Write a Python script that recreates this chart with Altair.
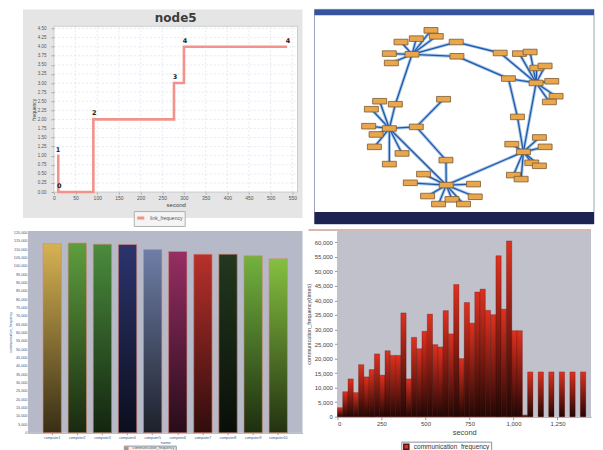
import altair as alt
import pandas as pd

LAB = "Liberation Sans"
TFONT = "DejaVu Sans"

# ---------------- top-left: node5 step chart ----------------
tl_title = "node5"
tl_second = [7, 10, 91, 277, 300, 538]
tl_frequency = [1, 0, 2, 3, 4, 4]
tl_point_label = ["1", "0", "2", "3", "4", "4"]
tl_series_name = "link_frequency"
tl_x_ticks = [0, 50, 100, 150, 200, 250, 300, 350, 400, 450, 500, 550]
tl_y_ticks = [0.0, 0.25, 0.5, 0.75, 1.0, 1.25, 1.5, 1.75, 2.0, 2.25, 2.5, 2.75,
              3.0, 3.25, 3.5, 3.75, 4.0, 4.25, 4.5]
tl_x_max, tl_y_max = 562, 4.56

# ---------------- top-right: communication graph ----------------
node_id = ["A", "B", "C", "D", "E",
           "a1", "a2", "a3", "a4", "a5", "a6", "a7", "a8",
           "b1", "b2", "b3", "b4", "b5", "b6", "b7", "b8", "b9", "bc",
           "c1", "c2", "c3", "c4", "c5", "c6", "c7",
           "d1", "d2", "d3", "d4", "d5", "d6", "d7", "d8", "d9",
           "e1", "e2", "e3", "e4", "e5", "e6", "e7", "e8", "e9", "e10"]
node_x = [411.7, 536.0, 523.3, 446.0, 389.0,
          430.7, 436.0, 416.0, 400.7, 389.0, 391.0, 456.0, 456.7,
          500.0, 519.3, 530.0, 536.7, 545.0, 551.7, 556.0, 549.3, 508.3, 517.3,
          511.7, 539.3, 545.0, 531.7, 539.3, 513.3, 521.0,
          445.7, 423.3, 410.0, 473.3, 427.3, 438.3, 451.7, 463.3, 475.0,
          379.3, 395.0, 371.0, 368.3, 375.7, 374.0, 401.7, 389.0, 416.0, 443.3]
node_y = [54.0, 82.7, 151.7, 185.0, 128.3,
          30.0, 36.0, 38.3, 41.7, 53.3, 62.7, 41.7, 56.0,
          52.7, 53.3, 51.7, 67.7, 65.7, 81.0, 96.0, 101.7, 78.3, 116.7,
          144.0, 137.3, 146.7, 162.7, 165.7, 175.0, 179.0,
          160.0, 174.0, 182.7, 184.0, 196.0, 204.0, 199.3, 204.0, 196.7,
          101.0, 104.0, 109.0, 126.0, 134.3, 146.7, 153.3, 164.0, 126.7, 99.0]
edge_from = ["A", "A", "A", "A", "A", "A", "A", "A", "A", "a7", "a8",
             "B", "B", "B", "B", "B", "B", "B", "B", "B", "B", "b9", "bc",
             "C", "C", "C", "C", "C", "C", "C", "C",
             "D", "D", "D", "D", "D", "D", "D", "D", "D", "D",
             "E", "E", "E", "E", "E", "E", "E", "E", "E", "e9", "e9"]
edge_to = ["a1", "a2", "a3", "a4", "a5", "a6", "a7", "a8", "e2", "b1", "b9",
           "b1", "b2", "b3", "b4", "b5", "b6", "b7", "b8", "b9", "C", "bc", "C",
           "c1", "c2", "c3", "c4", "c5", "c6", "c7", "D",
           "d1", "d2", "d3", "d4", "d5", "d6", "d7", "d8", "d9", "E",
           "e1", "e2", "e3", "e4", "e5", "e6", "e7", "e8", "e9", "e10", "d1"]

# ---------------- bottom-left: per computer totals ----------------
bl_names = ["computer1", "computer2", "computer3", "computer4", "computer5",
            "computer6", "computer7", "computer8", "computer9", "computer10"]
bl_values = [113400, 113800, 113100, 112900, 109900, 108700, 107100, 107100, 106100, 104300]
bl_colors = ["#d6b252", "#5e9e3e", "#4a8c3c", "#2c346e", "#6e7ea6",
             "#962e64", "#b8302c", "#22381e", "#72b23e", "#84c040"]
bl_y_ticks = [0, 5000, 10000, 15000, 20000, 25000, 30000, 35000, 40000, 45000, 50000,
              55000, 60000, 65000, 70000, 75000, 80000, 85000, 90000, 95000, 100000,
              105000, 110000, 115000, 120000]

# ---------------- bottom-right: frequency over time ----------------
br_start = [0, 30, 60, 90, 120, 150, 180, 210, 240, 270, 300, 330, 360, 390, 420,
            450, 480, 510, 540, 570, 600, 630, 660, 690, 720, 750, 780, 810, 840,
            870, 900, 930, 960, 990, 1020, 1050, 1080, 1140, 1200, 1260, 1320, 1380]
br_values = [3100, 8600, 13000, 8300, 17900, 13700, 16200, 21600, 14300, 22700,
             21100, 21100, 35700, 13000, 27300, 23400, 29400, 35300, 24800, 24000,
             36500, 28500, 45500, 20000, 39300, 32200, 42900, 43900, 36600, 35100,
             55400, 37000, 60500, 29600, 29600, 600, 15400, 15400, 15400, 15400,
             15400, 15400]
br_bin = 30
br_x_ticks = [0, 250, 500, 750, 1000, 1250]
br_y_ticks = [0, 5000, 10000, 15000, 20000, 25000, 30000, 35000, 40000, 45000,
              50000, 55000, 60000]

one = alt.Data(values=[{"k": 1}])

# ================= TOP-LEFT =================
# plot rectangle 244x166 placed at (LX, TY) inside a 270x183 unit
PW, PH, LX, TY = 244, 166, 26, 17
TLW, TLH = PW + LX, PH + TY
x_lo = -LX * tl_x_max / PW
y_hi = tl_y_max * TLH / PH
tl_df = pd.DataFrame({"second": tl_second, "frequency": tl_frequency,
                      "label": tl_point_label,
                      "series": [tl_series_name] * len(tl_second)})
gx_df = pd.DataFrame({"g": tl_x_ticks, "lo": [0] * len(tl_x_ticks),
                      "hi": [tl_y_max] * len(tl_x_ticks)})
gy_df = pd.DataFrame({"g": tl_y_ticks, "lo": [0] * len(tl_y_ticks),
                      "hi": [tl_x_max] * len(tl_y_ticks)})
xsc = alt.Scale(domain=[x_lo, tl_x_max], nice=False, zero=False)
ysc = alt.Scale(domain=[0, y_hi], nice=False, zero=False)
tl_xaxis = alt.Axis(values=tl_x_ticks, format="d", title="second", domain=False,
                    grid=False, labelOverlap=False, labelFont=LAB, labelFontSize=5,
                    labelColor="#555", titleFont=LAB, titleFontSize=6,
                    titleFontWeight="normal", titleColor="#444", tickSize=2,
                    tickColor="#aaa", labelPadding=1, titlePadding=1,
                    titleX=LX + PW / 2, zindex=1)
tl_yaxis = alt.Axis(values=tl_y_ticks, format=".2f", title="frequency", domain=False,
                    grid=False, labelOverlap=False, offset=-LX, labelFont=LAB,
                    labelFontSize=4.5, labelColor="#555", titleFont=LAB,
                    titleFontSize=5, titleFontWeight="normal", titleColor="#444",
                    tickSize=3, tickColor="#aaa", labelPadding=5, titlePadding=1,
                    titleY=TY + PH / 2, zindex=1)
tl_x = alt.X("second:Q", scale=xsc, axis=tl_xaxis)
tl_y = alt.Y("frequency:Q", scale=ysc, axis=tl_yaxis)

tl_bg = alt.Chart(one).mark_rect(fill="#e5e5e5").encode(
    x=alt.value(-5), x2=alt.value(TLW + 5), y=alt.value(0), y2=alt.value(TLH + 26))
tl_plot = alt.Chart(one).mark_rect(fill="white", stroke="#bdbdbd", strokeWidth=0.7).encode(
    x=alt.value(LX), x2=alt.value(TLW), y=alt.value(TY), y2=alt.value(TLH))
tl_gridx = alt.Chart(gx_df).mark_rule(color="#d3dce8", strokeWidth=0.6,
                                      strokeDash=[2, 2]).encode(
    x=alt.X("g:Q", scale=xsc, axis=tl_xaxis), y=alt.Y("lo:Q", scale=ysc, axis=tl_yaxis),
    y2="hi:Q")
tl_gridy = alt.Chart(gy_df).mark_rule(color="#d3dce8", strokeWidth=0.6,
                                      strokeDash=[2, 2]).encode(
    y=alt.Y("g:Q", scale=ysc, axis=tl_yaxis), x=alt.X("lo:Q", scale=xsc, axis=tl_xaxis),
    x2="hi:Q")
tl_head = alt.Chart(alt.Data(values=[{"t": tl_title}])).mark_text(
    font=TFONT, fontSize=12, fontWeight="bold", color="#3c3c3c", baseline="middle").encode(
    x=alt.value(LX + PW / 2), y=alt.value(TY - 8), text="t:N")
tl_line = alt.Chart(tl_df).mark_line(interpolate="step-after", strokeWidth=2.6).encode(
    x=tl_x, y=tl_y,
    color=alt.Color("series:N", scale=alt.Scale(range=["#f2928a"]),
                    legend=alt.Legend(orient="none", legendX=LX + 80, legendY=TY + 185,
                                      title=None, labelFont=LAB, labelFontSize=5,
                                      labelColor="#555", symbolType="stroke",
                                      symbolStrokeWidth=3, symbolSize=50,
                                      strokeColor="#b0b0b0", fillColor="#f4f4f4",
                                      padding=1.5)))
tl_text = alt.Chart(tl_df).mark_text(dy=-6, dx=1, fontSize=6.5, fontWeight="bold",
                                     font=TFONT, color="#222").encode(
    x=tl_x, y=tl_y, text="label:N")

tl = alt.layer(tl_bg, tl_plot, tl_gridx, tl_gridy, tl_head, tl_line, tl_text).properties(
    width=TLW, height=TLH)

# ================= TOP-RIGHT =================
TRW, TRH = 280, 215
pos = {n: (x, y) for n, x, y in zip(node_id, node_x, node_y)}
nodes_df = pd.DataFrame({"id": node_id, "gx": node_x, "gy": node_y})
edges_df = pd.DataFrame({
    "gx": [pos[a][0] for a in edge_from], "gy": [pos[a][1] for a in edge_from],
    "gx2": [pos[b][0] for b in edge_to], "gy2": [pos[b][1] for b in edge_to]})
gxs = alt.Scale(domain=[314, 594], nice=False, zero=False)
gys = alt.Scale(domain=[224, 9], nice=False, zero=False)

tr_frame = alt.Chart(one).mark_rect(fill="white", stroke="#9aa3b8", strokeWidth=1).encode(
    x=alt.value(0), x2=alt.value(TRW), y=alt.value(0), y2=alt.value(TRH))
tr_titlebar = alt.Chart(one).mark_rect(fill="#3553a0").encode(
    x=alt.value(0), x2=alt.value(TRW), y=alt.value(0), y2=alt.value(6))
tr_status = alt.Chart(one).mark_rect(fill="#1c2352").encode(
    x=alt.value(0), x2=alt.value(TRW), y=alt.value(TRH - 12), y2=alt.value(TRH))
tr_edges_halo = alt.Chart(edges_df).mark_rule(color="#a8c6ea", strokeWidth=3.2).encode(
    x=alt.X("gx:Q", scale=gxs, axis=None), y=alt.Y("gy:Q", scale=gys, axis=None),
    x2="gx2:Q", y2="gy2:Q")
tr_edges = alt.Chart(edges_df).mark_rule(color="#1f5aa8", strokeWidth=1.3).encode(
    x=alt.X("gx:Q", scale=gxs, axis=None), y=alt.Y("gy:Q", scale=gys, axis=None),
    x2="gx2:Q", y2="gy2:Q")
tr_nodes = alt.Chart(nodes_df).mark_point(
    shape="M-1,-0.4L1,-0.4L1,0.4L-1,0.4Z", size=196, filled=True,
    fill="#eaa64c", stroke="#7a5a32", strokeWidth=0.8, opacity=1).encode(
    x=alt.X("gx:Q", scale=gxs, axis=None), y=alt.Y("gy:Q", scale=gys, axis=None))

tr = alt.layer(tr_frame, tr_titlebar, tr_status, tr_edges_halo, tr_edges,
               tr_nodes).properties(width=TRW, height=TRH)

# ================= BOTTOM-LEFT =================
BLW, BLH = 275, 202
bl_df = pd.DataFrame({"name": bl_names, "value": bl_values,
                      "series": ["communication_frequency"] * len(bl_names)})
bl_x = alt.X("name:N", sort=bl_names,
             scale=alt.Scale(paddingInner=0.27, paddingOuter=0.6),
             axis=alt.Axis(title="name", labelAngle=0, labelOverlap=False, labelFont=LAB,
                           labelFontSize=3.5, labelColor="#35558a", titleFont=LAB,
                           titleFontSize=4, titleFontWeight="normal", titleColor="#35558a",
                           tickSize=2, tickColor="#8aa0c0", domainColor="#8aa0c0",
                           labelPadding=1, titlePadding=1))
bl_y = alt.Y("value:Q", scale=alt.Scale(domain=[0, 121000], nice=False),
             axis=alt.Axis(values=bl_y_ticks, format=",d", title="communication_frequency",
                           labelOverlap=False, labelFont=LAB, labelFontSize=3.8,
                           labelColor="#35558a", titleFont=LAB, titleFontSize=3.5,
                           titleFontWeight="normal", titleColor="#35558a", ticks=False,
                           domainColor="#8aa0c0", labelPadding=1, titlePadding=1,
                           grid=False))
bl_bg = alt.Chart(one).mark_rect(fill="#b6bac8").encode(
    x=alt.value(0), x2=alt.value(BLW), y=alt.value(0), y2=alt.value(BLH))
bl_bars = alt.Chart(bl_df).mark_bar().encode(
    x=bl_x, y=bl_y,
    fill=alt.Fill("name:N", scale=alt.Scale(domain=bl_names, range=bl_colors), legend=None))
bl_shade = alt.Chart(bl_df).mark_bar(
    fill={"gradient": "linear", "x1": 0, "x2": 0, "y1": 0, "y2": 1,
          "stops": [{"offset": 0, "color": "rgba(0,0,0,0)"},
                    {"offset": 1, "color": "rgba(0,0,0,0.74)"}]},
    strokeWidth=0.6).encode(
    x=bl_x, y=bl_y,
    stroke=alt.Stroke("series:N", scale=alt.Scale(range=["#dc8670"]),
                      legend=alt.Legend(orient="none", legendX=96, legendY=215, title=None,
                                        labelFont=LAB, labelFontSize=3.6, labelColor="#555",
                                        symbolType="square", symbolSize=6,
                                        symbolFillColor="#c03020", strokeColor="#8890a0",
                                        fillColor="#f0f0f0", padding=0.8)))
bl = alt.layer(bl_bg, bl_bars, bl_shade).properties(width=BLW, height=BLH)

# ================= BOTTOM-RIGHT =================
BRW, BRH = 254, 186
br_df = pd.DataFrame({"start": br_start, "end": [s + br_bin for s in br_start],
                      "value": br_values,
                      "series": ["communication_frequency"] * len(br_start)})
br_x = alt.X("start:Q", scale=alt.Scale(domain=[0, 1440], nice=False, zero=False),
             axis=alt.Axis(values=br_x_ticks, format=",d", title="second",
                           labelOverlap=False, labelFont=LAB, labelFontSize=6,
                           labelColor="#444", titleFont=LAB, titleFontSize=7.5,
                           titleFontWeight="normal", titleColor="#444", tickSize=3,
                           tickColor="#999", domainColor="#999", labelPadding=1,
                           titlePadding=2, grid=False))
br_y = alt.Y("value:Q", scale=alt.Scale(domain=[0, 63900], nice=False),
             axis=alt.Axis(values=br_y_ticks, format=",d",
                           title="communication_frequency(times)", labelOverlap=False,
                           labelFont=LAB, labelFontSize=6, labelColor="#444",
                           titleFont=LAB, titleFontSize=5.5, titleFontWeight="normal",
                           titleColor="#444", tickSize=3, tickColor="#999",
                           domainColor="#999", labelPadding=2, titlePadding=3, grid=False))
br_bg = alt.Chart(one).mark_rect(fill="#c1c1cc").encode(
    x=alt.value(0), x2=alt.value(BRW), y=alt.value(0), y2=alt.value(BRH))
br_top = alt.Chart(one).mark_rule(color="#b8706a", strokeWidth=1.2).encode(
    x=alt.value(-29), x2=alt.value(BRW), y=alt.value(-1))
br_bars = alt.Chart(br_df).mark_bar(stroke="#5a1410", strokeWidth=0.3).encode(
    x=br_x, x2="end:Q", y=br_y, y2=alt.datum(0),
    color=alt.Color("series:N", scale=alt.Scale(range=["#e0301e"]),
                    legend=alt.Legend(orient="none", legendX=64, legendY=211, title=None,
                                      labelFont=LAB, labelFontSize=6.5, labelColor="#333",
                                      symbolType="square", symbolSize=25,
                                      strokeColor="#8890a0", fillColor="#ffffff",
                                      padding=1.5)))
br_shade = alt.Chart(br_df).mark_bar(
    fill={"gradient": "linear", "x1": 0, "x2": 0, "y1": 0, "y2": 1,
          "stops": [{"offset": 0, "color": "rgba(0,0,0,0)"},
                    {"offset": 1, "color": "rgba(0,0,0,0.85)"}]}).encode(
    x=br_x, x2="end:Q", y=br_y, y2=alt.datum(0))
br = alt.layer(br_bg, br_top, br_bars, br_shade).properties(width=BRW, height=BRH)

indep = dict(color="independent", fill="independent", stroke="independent")
row1 = alt.hconcat(tl, tr, spacing=11).resolve_scale(**indep).resolve_legend(**indep)
row2 = alt.hconcat(bl, br, spacing=3).resolve_scale(**indep).resolve_legend(**indep)
chart = alt.vconcat(row1, row2, spacing=2).resolve_scale(**indep).resolve_legend(
    **indep).properties(padding=0, background="white").configure_view(strokeWidth=0)

chart.save("out.html", embed_options={"renderer": "svg", "actions": False})
